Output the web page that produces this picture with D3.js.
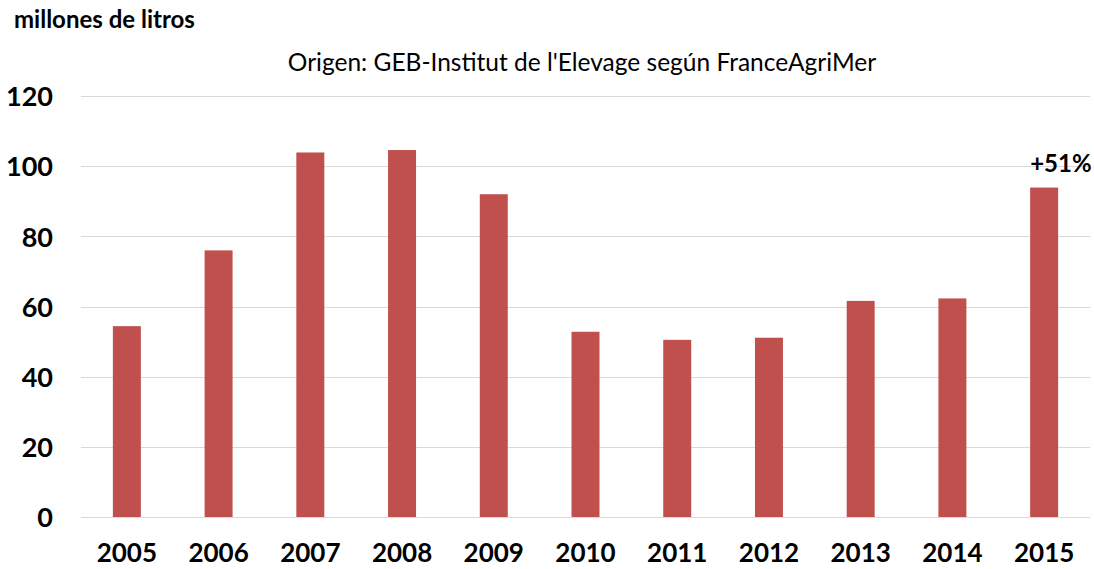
<!DOCTYPE html>
<html>
<head>
<meta charset="utf-8">
<script src="https://cdn.jsdelivr.net/npm/d3@7"></script>
<style>
  body { margin: 0; background: #fff; }
  svg { display: block; font-family: Lato, "Open Sans", sans-serif; }
</style>
</head>
<body>
<div id="chart"></div>
<script>
// data
const years = ["2005", "2006", "2007", "2008", "2009", "2010", "2011", "2012", "2013", "2014", "2015"];
const volumes = [54.4, 76.0, 103.9, 104.6, 92.0, 52.8, 50.5, 51.1, 61.6, 62.3, 93.9];
const yTicks = [0, 20, 40, 60, 80, 100, 120];
const unitLabel = "millones de litros";
const sourceLabel = "Origen: GEB-Institut de l'Elevage según FranceAgriMer";
const lastNote = "+51%";

const W = 1094, H = 569;
const margin = { top: 96, right: 4, bottom: 52, left: 81 };

const svg = d3.select("#chart").append("svg")
    .attr("width", W)
    .attr("height", H);

const x = d3.scaleBand()
    .domain(years)
    .range([margin.left, W - margin.right])
    .paddingInner(0.695)
    .paddingOuter(0.3475);

const y = d3.scaleLinear()
    .domain([0, 120])
    .range([H - margin.bottom, margin.top]);

// gridlines
svg.append("g")
    .selectAll("line")
    .data(yTicks)
    .enter()
    .append("line")
    .attr("x1", margin.left)
    .attr("x2", W - margin.right)
    .attr("y1", d => Math.round(y(d)) + 0.5)
    .attr("y2", d => Math.round(y(d)) + 0.5)
    .attr("stroke", "#d9d9d9")
    .attr("stroke-width", 1.2);

// y axis labels
const yAxis = svg.append("g")
    .attr("transform", `translate(${margin.left - 28},0)`)
    .call(d3.axisLeft(y).tickValues(yTicks).tickSize(0).tickPadding(0));
yAxis.select(".domain").remove();
yAxis.selectAll("text")
    .attr("font-family", "Lato, sans-serif")
    .attr("font-size", 27)
    .attr("font-weight", "bold")
    .attr("fill", "#000")
    .attr("dy", "0.36em");

// bars
svg.append("g")
    .selectAll("rect")
    .data(years)
    .enter()
    .append("rect")
    .attr("x", d => x(d))
    .attr("width", x.bandwidth())
    .attr("y", (d, i) => y(volumes[i]))
    .attr("height", (d, i) => y(0) - y(volumes[i]))
    .attr("fill", "#c0504d");

// x axis labels
const xAxis = svg.append("g")
    .attr("transform", `translate(0,${y(0)})`)
    .call(d3.axisBottom(x).tickSize(0).tickPadding(0));
xAxis.select(".domain").remove();
xAxis.selectAll("text")
    .attr("font-family", "Lato, sans-serif")
    .attr("font-size", 26)
    .attr("font-weight", "bold")
    .attr("fill", "#000")
    .attr("dy", null)
    .attr("y", 45);

// annotation over the last bar
svg.append("text")
    .attr("x", x(years[years.length - 1]))
    .attr("y", y(volumes[volumes.length - 1]) - 16)
    .attr("font-size", 24)
    .attr("font-weight", "bold")
    .text(lastNote);

// titles
svg.append("text")
    .attr("x", 14)
    .attr("y", 28)
    .attr("font-size", 24)
    .attr("font-weight", "bold")
    .text(unitLabel);

svg.append("text")
    .attr("x", 582)
    .attr("y", 71)
    .attr("text-anchor", "middle")
    .attr("font-size", 24.5)
    .text(sourceLabel);
</script>
</body>
</html>
